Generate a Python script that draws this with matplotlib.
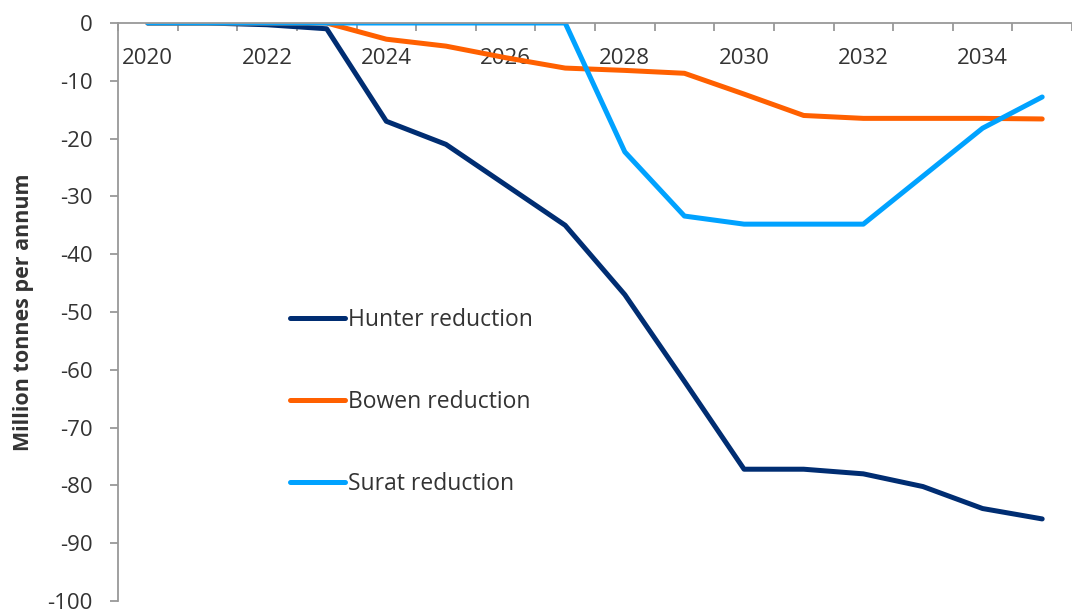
import numpy as np
import matplotlib.pyplot as plt

# Data.
years = list(range(2020, 2036))
hunter = [0, 0, -0.3, -1, -17, -21, -28, -35, -47, -62, -77.2, -77.2, -78, -80.2, -84, -85.8]
bowen = [0, 0, 0, 0, -2.8, -4, -6, -7.8, -8.2, -8.7, -12.3, -16, -16.5, -16.5, -16.5, -16.6]
surat = [0, 0, 0, 0, 0, 0, 0, 0, -22.3, -33.4, -34.8, -34.8, -34.8, -26.5, -18.2, -12.8]
label_years = [2020, 2022, 2024, 2026, 2028, 2030, 2032, 2034]

plt.rcParams['font.family'] = ['Open Sans', 'DejaVu Sans']
plt.rcParams['axes.unicode_minus'] = False
text_col = '#333333'
axis_col = '#999999'

fig = plt.figure(figsize=(10.72, 6.13), dpi=100)
ax = fig.add_axes([118/1072, 1 - 601/613, (1072 - 118)/1072, (601 - 23)/613])

x = np.arange(len(years))
ax.plot(x, hunter, color='#002D72', lw=3.6, solid_capstyle='round', solid_joinstyle='round', label='Hunter reduction')
ax.plot(x, bowen, color='#FF6000', lw=3.6, solid_capstyle='round', solid_joinstyle='round', label='Bowen reduction')
ax.plot(x, surat, color='#00A2FF', lw=3.6, solid_capstyle='round', solid_joinstyle='round', label='Surat reduction')

ax.set_xlim(-0.5, -0.5 + (1072 - 118)/60)
ax.set_ylim(-100, 0)

# x axis sits at y=0, category ticks between years
ax.spines['bottom'].set_position(('data', 0))
for s in ['top', 'right']:
    ax.spines[s].set_visible(False)
for s in ['bottom', 'left']:
    ax.spines[s].set_color(axis_col)
    ax.spines[s].set_linewidth(1.3)

ax.set_xticks([years.index(y) for y in label_years])
ax.set_xticklabels([str(y) for y in label_years])
ax.set_xticks(np.arange(-0.5, 16, 1), minor=True)
ax.tick_params(axis='x', which='major', length=0, pad=18, labelsize=16, labelcolor=text_col)
ax.tick_params(axis='x', which='minor', length=6, width=1.3, color=axis_col, direction='out')

ax.set_yticks(np.arange(-100, 1, 10))
ax.tick_params(axis='y', length=6, width=1.3, color=axis_col, pad=12, labelsize=16, labelcolor=text_col)

ax.set_ylabel('Million tonnes per annum', fontsize=15.5, fontweight='bold', color=text_col, labelpad=10)

ax.legend(loc='upper left', bbox_to_anchor=(0.159, 0.542), frameon=False, fontsize=16.5,
          labelspacing=2.52, handlelength=2.4, handletextpad=0.1, labelcolor=text_col)

fig.savefig('out.png', dpi=100)
